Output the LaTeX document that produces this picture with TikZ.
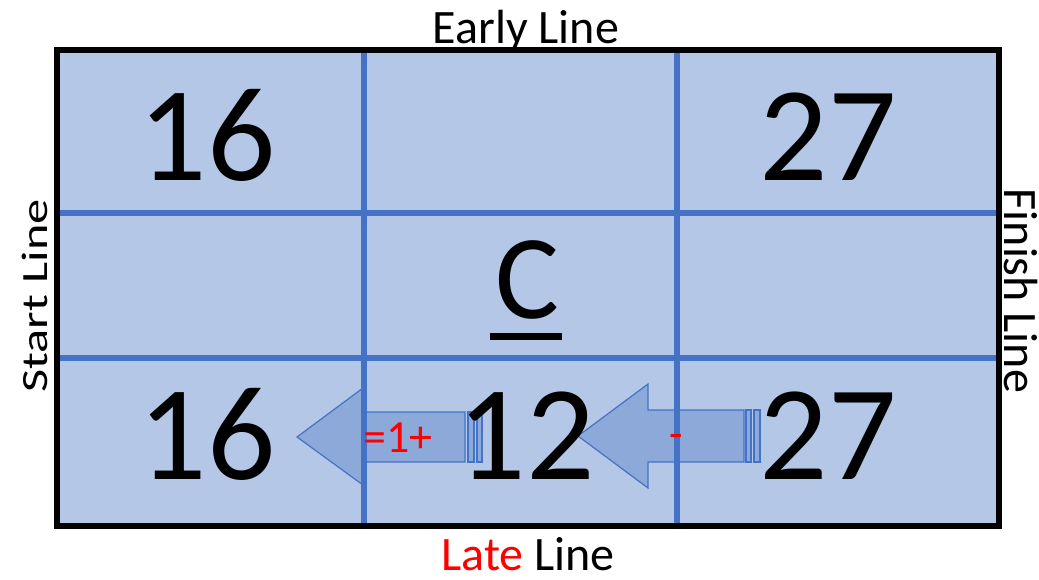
\documentclass[tikz,border=0pt]{standalone}
\usepackage{fontspec}
\setmainfont{Carlito}
\definecolor{cellfill}{HTML}{B4C7E7}
\definecolor{gridblue}{HTML}{4472C4}
\definecolor{txtred}{HTML}{FF0000}
\tikzset{
  gridline/.style={draw=gridblue, line width=5.5pt},
  blockarrow/.style={fill=gridblue, fill opacity=0.35, draw=gridblue, line width=1.2pt, line join=miter},
  bignum/.style={anchor=base, inner sep=0pt, font=\fontsize{135}{140}\selectfont},
  edgelabel/.style={anchor=base, inner sep=0pt, font=\fontsize{48}{52}\selectfont},
  redlabel/.style={anchor=base, inner sep=0pt, text=txtred}
}
\begin{document}
\begin{tikzpicture}[x=1pt, y=-1pt]
\useasboundingbox (0,0) rectangle (1039,579);
% table background
\fill[cellfill] (56.5,50) rectangle (998.5,526);
% grid lines
\draw[gridline] (364,50) -- (364,526);
\draw[gridline] (677,50) -- (677,526);
\draw[gridline] (56.5,213) -- (998.5,213);
\draw[gridline] (56.5,358) -- (998.5,358);
% striped block arrows
\draw[blockarrow] (297,437) -- (363,388) -- (363,412) -- (465,412) -- (465,462) -- (363,462) -- (363,485) -- cycle;
\draw[blockarrow] (468,412) rectangle (474,462);
\draw[blockarrow] (477,412) rectangle (482,462);
\draw[blockarrow] (578,436) -- (648,384) -- (648,410) -- (744,410) -- (744,462) -- (648,462) -- (648,488) -- cycle;
\draw[blockarrow] (746,410) rectangle (751,462);
\draw[blockarrow] (754,410) rectangle (760,462);
% outer border
\draw[line width=6pt] (56.5,50) rectangle (998.5,526);
% numbers
\node[bignum] (es) at (207,180) {16};
\node[bignum] (ef) at (828,180) {27};
\node[bignum] (ls) at (207,479) {16};
\node[bignum] (dur) at (526,479) {12};
\node[bignum] (lf) at (828,479) {27};
\node[anchor=base, inner sep=0pt, font=\fontsize{120}{124}\selectfont] (act) at (527,318) {C};
\draw[line width=7pt] ([xshift=-37pt, yshift=-18pt]act.base) -- ([xshift=35pt, yshift=-18pt]act.base);
% arrow labels
\node[redlabel, font=\fontsize{46}{50}\selectfont] (plus) at (398,452) {=1+};
\node[redlabel, font=\fontsize{44}{48}\selectfont] (minus) at (676,448) {-};
% edge labels
\node[edgelabel] (early) at (526,43) {Early Line};
\node[edgelabel] (late) at (528,570) {\textcolor{txtred}{Late} Line};
\node[anchor=base, inner sep=0pt, rotate=90, font=\fontsize{37}{40}\selectfont] (start) at (47,296) {\scalebox{1.36}[1]{Start Line}};
\node[edgelabel, rotate=-90] (finish) at (1004,291) {Finish Line};
\end{tikzpicture}
\end{document}
